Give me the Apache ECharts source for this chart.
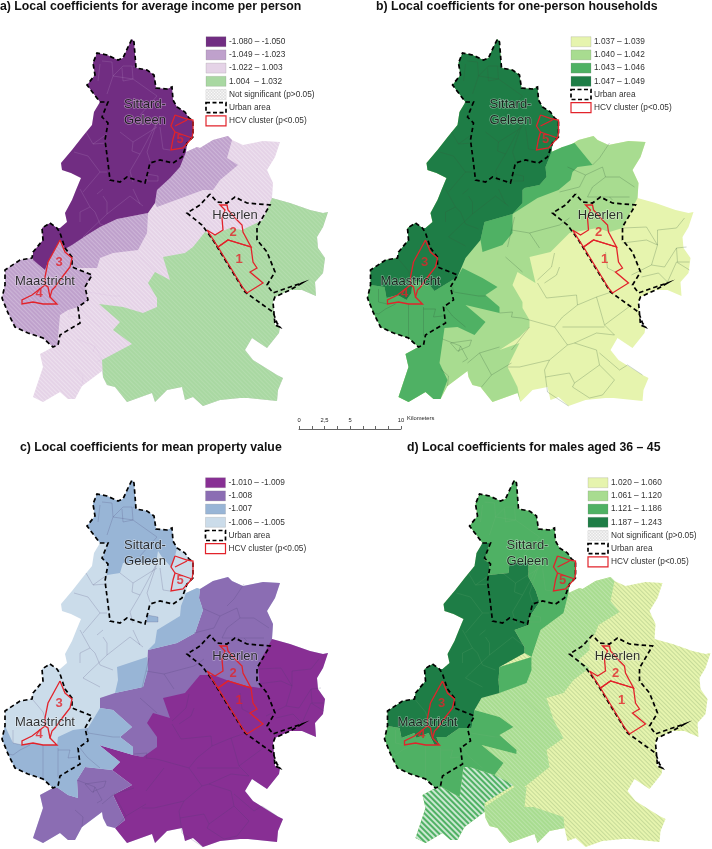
<!DOCTYPE html>
<html><head><meta charset="utf-8">
<style>html,body{margin:0;padding:0;background:#fff}#c{width:712px;height:849px}</style>
<script src="https://cdn.jsdelivr.net/npm/echarts@6/dist/echarts.min.js"></script>
</head><body><div id="c"></div>
<script>
// ---- Map geometry (map units; shared by the four panels) ----
const OUTLINE = [[132,39],[134,42],[135,55],[136,68],[147,70],[154,75],[156,88],[167,89],[172,87],[173,100],[177,107],[185,112],[189,118],[193,121],[193,137],[187,143],[186,152],[197,147],[200,148],[213,140],[228,136],[232,140],[243,145],[263,141],[280,142],[275,157],[267,170],[273,183],[272,198],[290,203],[310,210],[323,213],[328,212],[323,227],[317,237],[318,248],[325,258],[323,273],[315,282],[316,296],[302,290],[290,290],[275,297],[273,302],[275,325],[280,327],[279,333],[267,348],[252,338],[245,350],[253,360],[277,375],[283,378],[278,390],[277,401],[248,398],[240,398],[220,400],[203,406],[193,397],[185,400],[182,387],[167,390],[155,402],[152,393],[127,402],[115,387],[107,385],[103,377],[102,371],[82,386],[75,399],[68,399],[60,392],[43,402],[33,397],[43,367],[40,354],[53,347],[43,338],[28,333],[15,327],[8,313],[2,298],[5,285],[5,270],[20,260],[32,258],[33,252],[43,240],[42,228],[50,223],[57,228],[60,228],[67,222],[65,213],[72,200],[76,190],[81,178],[71,173],[62,170],[61,163],[72,150],[83,136],[92,125],[94,112],[100,102],[87,85],[95,75],[93,63],[97,53],[107,55],[118,60],[123,58],[128,47]];
function edge(a,b){const f=p=>OUTLINE.findIndex(q=>q[0]===p[0]&&q[1]===p[1]);let i=f(a);const j=f(b),r=[];for(;;){r.push(OUTLINE[i]);if(i===j)break;i=(i+1)%OUTLINE.length;}return r;}

const URBAN = [
 [[100,102],[108,102],[102,117],[108,123],[105,140],[108,163],[110,180],[120,182],[127,177],[145,183],[150,163],[160,160],[173,163],[182,157],[187,143],[193,137],[193,121],[189,118],[185,112],[177,107],[173,100],[172,87],[167,89],[156,88],[154,75],[147,70],[136,68],[135,55],[134,42],[132,39],[128,47],[123,58],[118,60],[107,55],[97,53],[93,63],[95,75],[87,85],[100,102]],
 [[210,194],[200,205],[187,213],[202,225],[213,240],[227,263],[245,292],[263,305],[273,312],[277,323],[280,327],[275,325],[273,302],[275,297],[290,290],[302,283],[290,287],[273,293],[267,285],[275,272],[267,252],[257,240],[257,227],[270,205],[247,203],[235,197],[227,203],[217,202],[210,194]],
 [[50,223],[57,228],[60,233],[65,248],[72,257],[72,267],[92,275],[85,287],[88,300],[78,307],[80,323],[60,335],[58,345],[53,347],[43,338],[28,333],[15,327],[8,313],[2,298],[5,285],[5,270],[20,260],[32,258],[33,252],[43,240],[42,228],[50,223]]
];
const HCV = [
 [[218,247],[228,240],[251,247],[253,262],[257,268],[250,272],[263,283],[247,293],[243,288],[218,247]],
 [[207,230],[215,235],[223,230],[222,218],[225,210],[220,205],[227,205],[228,210],[237,220],[242,225],[243,232],[251,247],[228,240],[218,247],[207,230]],
 [[60,240],[65,252],[72,258],[70,267],[63,276],[55,287],[52,290],[50,297],[57,304],[43,304],[33,302],[22,304],[22,300],[32,295],[45,285],[45,277],[48,262],[60,240]],
 [[45,285],[48,287],[50,297]],
 [[175,115],[187,119],[193,120],[193,132],[192,138],[183,148],[171,150],[173,139],[175,132],[171,126],[175,115]],
 [[175,126],[187,120]],
 [[175,132],[192,138]]
];
const LINES_NORTH = [
 [[102,61],[112,62],[113,76],[107,94]],[[100,64],[98,81]],[[113,76],[123,66],[132,66],[133,79],[123,81],[122,68]],
 [[133,66],[137,67]],[[113,76],[133,79],[157,96],[140,115]],[[120,132],[133,142],[132,151],[140,154],[147,141],[157,122]],
 [[133,142],[157,127]],[[140,154],[130,171],[133,182]],[[157,122],[147,152],[150,161]],[[160,127],[163,149],[170,150]],
 [[107,134],[93,144],[86,132]],[[93,144],[107,143]],[[74,152],[88,156],[100,172],[107,172]],[[100,172],[83,192]],
 [[147,174],[158,176],[158,181],[147,181],[147,174]],[[80,189],[90,207],[80,212],[80,222]],[[90,207],[95,212],[100,224]],
 [[97,194],[103,189]],[[103,196],[107,202],[107,214],[130,196],[143,206]],[[133,189],[140,204]],
 [[107,214],[88,232],[83,237],[100,246]],[[100,224],[113,229]],[[33,259],[43,271],[47,283]],[[13,289],[13,302],[22,304]],
 [[9,313],[13,314],[20,309],[30,304]],[[43,304],[43,339]],[[58,307],[58,336]],[[58,309],[70,309],[68,317],[77,316]],
 [[87,287],[88,292],[113,296],[120,296]],[[80,307],[87,316],[100,327]],[[75,369],[83,376],[82,386]],[[97,362],[102,359]],
 [[77,339],[95,346],[102,359]],[[93,352],[95,346]],[[140,257],[157,272]]
];
const LINES_SOUTH = [
 [[189,253],[186,267],[172,280]],[[194,267],[191,275],[179,283]],[[172,283],[181,298],[211,295],[212,305],[231,297],[246,292]],
 [[164,320],[189,327],[197,317],[212,305]],[[231,297],[239,325],[266,305]],[[197,327],[239,327]],
 [[189,327],[202,345],[209,343],[231,333],[249,335],[239,325]],[[202,345],[184,360],[179,370],[180,377],[204,373],[209,383],[234,365],[231,350],[209,343]],
 [[234,353],[254,370],[262,365],[277,375]],[[234,365],[249,380],[237,395],[224,398]],[[207,387],[224,398]],[[209,383],[207,387]],
 [[180,377],[182,392],[203,406]],[[164,327],[146,350]],[[154,367],[184,360]],[[142,367],[154,367]],
 [[134,313],[147,312],[146,317],[156,318],[164,320]],[[102,363],[114,353],[134,347]],[[114,353],[126,375],[116,387]],
 [[126,375],[146,363]],[[85,343],[106,340],[104,346],[92,351],[85,343]],[[257,228],[281,227],[292,245],[292,230],[311,228],[319,218]],
 [[257,243],[281,240],[292,245],[286,265],[299,267],[311,248],[321,247]],[[286,265],[276,270],[266,275]],[[276,277],[293,273],[302,282],[311,262],[324,270]],
 [[311,248],[312,262],[324,262]],[[227,165],[234,158],[244,143]],[[202,167],[220,175],[237,167],[240,177],[254,177],[269,187]],
 [[220,175],[214,187],[194,192]],[[240,177],[227,187],[222,197],[244,197],[247,200]],[[244,197],[264,197]],
 [[146,230],[164,233],[174,248]],[[164,233],[194,225],[204,218]],[[149,217],[146,230],[142,247]],[[240,252],[242,268],[250,272]]
];

// ---- Per-panel zones ----
const ZONES_A = [
 ['base',2,OUTLINE],
 ['east',3,[...edge([272,198],[103,377]),[102,360],[132,344],[113,330],[120,322],[99,304],[123,307],[143,313],[157,307],[157,298],[148,283],[155,272],[170,280],[163,257],[185,253],[193,247],[205,232],[213,235],[230,228],[242,230],[263,220]]],
 ['ne',1,[...edge([186,152],[232,140]),[227,158],[238,165],[220,180],[213,190],[203,190],[157,207],[155,203],[157,190],[180,167]]],
 ['west',1,[[148,213],[147,233],[138,250],[113,253],[100,258],[97,268],[78,268],[72,267],[72,258],[65,249],[87,235],[100,227],[117,219]]],
 ['maas',1,[...edge([53,347],[32,258]),[33,260],[45,270],[48,262],[60,240],[65,249],[72,258],[72,267],[92,275],[85,287],[88,300],[78,307],[68,310],[60,315],[58,337],[58,345]]],
 ['north',0,[...edge([33,252],[186,152]),[180,167],[170,178],[157,190],[155,203],[148,213],[117,219],[100,227],[87,235],[72,245],[65,249],[60,240],[48,262],[45,270],[33,260]]]
];
const ZONES_B = [
 ['base',0,OUTLINE],
 ['light',1,[...edge([155,402],[272,198]),[257,228],[244,232],[232,228],[204,233],[185,252],[164,257],[170,283],[152,272],[147,285],[157,302],[157,308],[164,320],[164,327],[154,337],[134,350],[154,343],[142,367],[152,387]]],
 ['ne',2,[[186,152],[197,147],[209,143],[227,165],[212,167],[207,172],[205,180],[193,190],[172,198],[147,214],[157,203],[157,190],[159,188],[174,185],[181,177],[180,167]]],
 ['centre',2,[[119,222],[147,214],[147,233],[137,245],[117,252],[115,240]]],
 ['south',2,[...edge([75,399],[5,285]),[19,287],[21,298],[32,295],[41,300],[46,293],[47,280],[64,285],[69,291],[87,280],[92,277],[97,268],[117,278],[132,287],[120,295],[134,307],[134,313],[100,305],[120,322],[109,335],[92,327],[79,328],[74,363],[82,380]]],
 ['north',3,[...edge([5,285],[186,152]),[180,167],[181,177],[174,185],[159,188],[157,190],[157,203],[147,214],[119,222],[115,240],[100,258],[92,277],[87,280],[69,291],[64,285],[47,280],[46,293],[41,300],[32,295],[21,298],[19,287]]]
];
const ZONES_C = [
 ['base',3,OUTLINE],
 ['mid',1,[...edge([200,148],[272,198]),[265,255],[190,300],[160,320],[133,314],[133,306],[120,296],[132,286],[113,269],[100,267],[100,257],[115,252],[143,246],[147,230],[148,209],[177,202],[195,192],[203,169],[199,157]]],
 ['east',0,[...edge([272,198],[115,387]),[125,379],[113,354],[132,344],[112,329],[120,321],[99,304],[133,314],[143,316],[157,306],[157,296],[147,282],[153,272],[170,277],[163,257],[185,252],[200,234],[213,234],[240,244],[260,247],[258,224]]],
 ['lav',1,[...edge([115,387],[53,347]),[58,347],[68,354],[78,357],[77,339],[85,326],[112,329],[132,344],[113,354],[125,379]]],
 ['bluen',2,[...edge([100,102],[177,107]),[175,115],[171,126],[162,116],[158,110],[156,122],[123,122],[120,132],[107,134],[108,122],[102,119],[108,102]]],
 ['bluene',2,[[186,152],[197,147],[200,148],[199,157],[203,169],[195,192],[177,202],[148,209],[155,202],[157,189],[180,175],[181,165]]],
 ['bluec',2,[[117,226],[147,216],[148,229],[143,246],[115,252],[118,239]]],
 ['blues',2,[...edge([53,347],[5,285]),[13,302],[22,304],[33,302],[43,304],[57,304],[58,296],[73,289],[88,287],[100,267],[113,269],[132,286],[120,296],[133,306],[133,314],[99,304],[120,321],[112,329],[85,326],[77,339],[78,357],[68,354],[58,347]]],
 ['patch',2,[[147,174],[158,176],[158,181],[147,181]]]
];
const ZONES_D = [
 ['base',0,OUTLINE],
 ['lightc',1,[...edge([186,152],[232,140]),[228,160],[237,171],[216,184],[212,194],[207,196],[207,209],[196,219],[207,227],[191,239],[181,252],[164,257],[171,279],[181,297],[164,309],[167,326],[147,342],[134,352],[131,344],[112,334],[121,322],[99,304],[134,313],[134,309],[117,294],[131,286],[117,276],[92,269],[99,257],[117,252],[144,240],[149,226],[149,216],[158,189],[181,172]]],
 ['lights',1,[...edge([182,387],[103,377]),[102,366],[132,346],[144,346],[142,366],[151,366],[181,376]]],
 ['hatchsw',4,[...edge([102,371],[53,347]),[59,346],[77,356],[81,326],[87,326],[112,334],[131,344],[102,362]]],
 ['meds',2,[...edge([53,347],[5,285]),[17,287],[19,297],[32,292],[34,297],[46,292],[52,304],[57,304],[54,296],[64,296],[77,287],[89,287],[92,269],[117,276],[131,286],[117,294],[134,309],[134,313],[99,304],[121,322],[112,334],[87,326],[81,326],[77,356],[59,346]]],
 ['medn',2,[...edge([100,102],[186,152]),[181,172],[158,189],[149,216],[142,212],[142,206],[132,189],[146,184],[147,176],[157,161],[153,149],[146,136],[146,122],[127,122],[126,132],[106,134],[107,122],[102,119],[107,102]]],
 ['medc',2,[[117,226],[149,216],[149,229],[144,242],[117,252],[116,239]]],
 ['dark',3,[...edge([5,285],[100,102]),[107,102],[102,119],[107,122],[106,134],[126,132],[127,122],[146,122],[146,136],[153,149],[157,161],[147,176],[146,184],[132,189],[142,206],[142,212],[117,226],[116,239],[117,252],[99,257],[92,269],[89,287],[77,287],[64,296],[54,296],[57,304],[52,304],[46,292],[34,297],[32,292],[19,297],[17,287]]]
];

// ---- Legends, titles, colours ----
const TITLES = ['a) Local coefficients for average income per person','b) Local coefficients for one-person households','c) Local coefficients for mean property value','d) Local coefficients for males aged 36 – 45'];
const LEGEND_A = ['-1.080 – -1.050','-1.049 – -1.023','-1.022 – 1.003','1.004  – 1.032','Not significant (p>0.05)','Urban area','HCV cluster (p<0.05)'];
const LEGEND_B = ['1.037 – 1.039','1.040 – 1.042','1.043 – 1.046','1.047 – 1.049','Urban area','HCV cluster (p<0.05)'];
const LEGEND_C = ['-1.010 – -1.009','-1.008','-1.007','-1.006 – -1.005','Urban area','HCV cluster (p<0.05)'];
const LEGEND_D = ['1.020 – 1.060','1.061 – 1.120','1.121 – 1.186','1.187 – 1.243','Not significant (p>0.05)','Urban area','HCV cluster (p<0.05)'];
const COLORS_A = ['#712d82','#bfa1cc','#e5d3e7','#a9d8a2'];
const COLORS_B = ['#e6f4ae','#a8dc90','#4fb164','#1e7d46'];
const COLORS_C = ['#882f94','#8b6db3','#98b5d6','#cbdcea'];
const COLORS_D = ['#e6f4ae','#a8dc90','#4fb164','#1e7d46','#4fb164'];
const HATCH_A = {1:'rgba(255,255,255,0.22)',2:'rgba(255,255,255,0.3)',3:'rgba(255,255,255,0.12)'};
const HATCH_D = {0:'rgba(150,180,120,0.4)',1:'rgba(255,255,255,0.22)',4:'rgba(255,255,255,0.7)'};
const PLACE_LABELS = [['Sittard-',145,104],['Geleen',145,120],['Heerlen',235,215],['Maastricht',45,281]];
const NUMBER_LABELS = [['1',239,259],['2',233,232],['3',59,262],['4',39,293],['5',180,139]];
const SCALE_TICKS = [0,2.5,5,10];

// ---- Panels ----
const PANELS = [
 {name:'A',dx:0,dy:0,zones:ZONES_A,colors:COLORS_A,hatch:HATCH_A,legend:LEGEND_A,lx:206,ly:41.7,tx:0,ty:0.5,lineColor:'rgba(205,175,215,0.35)',south:false},
 {name:'B',dx:365.5,dy:0,zones:ZONES_B,colors:COLORS_B,hatch:{},legend:LEGEND_B,lx:571,ly:41.7,tx:376,ty:0.5,lineColor:'rgba(50,90,60,0.5)',south:true},
 {name:'C',dx:0,dy:441,zones:ZONES_C,colors:COLORS_C,hatch:{},legend:LEGEND_C,lx:205.5,ly:482.7,tx:20,ty:441.5,lineColor:'rgba(70,60,110,0.4)',south:true},
 {name:'D',dx:382.5,dy:441,zones:ZONES_D,colors:COLORS_D,hatch:HATCH_D,legend:LEGEND_D,lx:588,ly:482.7,tx:407,ty:441.5,lineColor:'rgba(130,180,130,0.3)',south:false}
];
const projection = {project:p=>[p[0],p[1]],unproject:p=>[p[0],p[1]]};
const FONT='"Liberation Sans",Arial,sans-serif';
const BOX=[[0,0],[356,408]];

const geos=[],series=[],titles=[],graphics=[];
PANELS.forEach((P,k)=>{
  echarts.registerMap('panel'+P.name,{type:'FeatureCollection',features:P.zones.map(z=>({type:'Feature',properties:{name:z[0]},geometry:{type:'Polygon',coordinates:[[...z[2],z[2][0]]]}}))});
  const layout={left:P.dx,top:P.dy,width:356,height:408,boundingCoords:BOX,projection};
  geos.push({map:'panel'+P.name,...layout,roam:false,silent:true,label:{show:false},itemStyle:{areaColor:'rgba(0,0,0,0)',borderColor:'rgba(0,0,0,0)',borderWidth:0},emphasis:{disabled:true},select:{disabled:true}});
  series.push({type:'map',map:'panel'+P.name,...layout,silent:true,roam:false,label:{show:false},emphasis:{disabled:true},select:{disabled:true},showLegendSymbol:false,
    itemStyle:{borderWidth:0,borderColor:'rgba(0,0,0,0)'},
    data:P.zones.map(z=>{
      const itemStyle={areaColor:P.colors[z[1]],borderWidth:0};
      if(P.hatch[z[1]]) itemStyle.decal={symbol:'rect',symbolSize:1,color:P.hatch[z[1]],rotation:Math.PI/4,dashArrayX:[1,0],dashArrayY:z[1]===4?[2,2]:[1,2]};
      return {name:z[0],value:z[1],itemStyle};
    })});
  const thin=P.south?[...LINES_NORTH,...LINES_SOUTH]:LINES_NORTH;
  series.push({type:'lines',coordinateSystem:'geo',geoIndex:k,polyline:true,silent:true,z:3,lineStyle:{color:P.lineColor,width:0.5,opacity:1},data:thin.map(c=>({coords:c}))});
  series.push({type:'lines',coordinateSystem:'geo',geoIndex:k,polyline:true,silent:true,z:4,lineStyle:{color:'#000',width:1.7,type:[4.5,3],opacity:1},data:URBAN.map(c=>({coords:c}))});
  series.push({type:'lines',coordinateSystem:'geo',geoIndex:k,polyline:true,silent:true,z:5,lineStyle:{color:'#e2232b',width:1.3,opacity:1},data:HCV.map(c=>({coords:c}))});
  series.push({type:'scatter',coordinateSystem:'geo',geoIndex:k,silent:true,z:6,symbolSize:0,
    label:{show:true,position:'inside',formatter:'{b}',color:'#000',fontFamily:FONT,fontSize:13,textBorderColor:'rgba(255,255,255,0.55)',textBorderWidth:1.2},
    data:PLACE_LABELS.map(l=>({name:l[0],value:[l[1],l[2]]}))});
  series.push({type:'scatter',coordinateSystem:'geo',geoIndex:k,silent:true,z:7,symbolSize:0,
    label:{show:true,position:'inside',formatter:'{b}',color:'#e2232b',fontFamily:FONT,fontSize:13,fontWeight:'bold'},
    data:NUMBER_LABELS.map(l=>({name:l[0],value:[l[1],l[2]]}))});
  titles.push({text:TITLES[k],left:P.tx,top:P.ty,padding:0,textStyle:{fontFamily:FONT,fontSize:12.3,fontWeight:'bold',color:'#111'}});

  // legend
  P.legend.forEach((t,i)=>{
    const y=P.ly+i*13.2, x=P.lx, w=20, h=10;
    const st=t==='Urban area'?{fill:'#fff',stroke:'#000',lineWidth:1.7,lineDash:[4,2.5]}
      :t.startsWith('HCV')?{fill:'#fff',stroke:'#e2232b',lineWidth:1.2}
      :t.startsWith('Not')?{fill:'#fbfbfb',stroke:'#dcdcdc',lineWidth:0.6}
      :{fill:P.colors[i],stroke:'rgba(120,120,120,0.35)',lineWidth:0.6};
    graphics.push({type:'rect',z:10,silent:true,shape:{x,y:y-h/2,width:w,height:h},style:st});
    if(t.startsWith('Not')){
      for(let d=-8;d<28;d+=3){
        const x1=Math.max(x,x+d),x2=Math.min(x+w,x+d+h);
        if(x2>x1){
          graphics.push({type:'line',z:11,silent:true,shape:{x1,y1:y-h/2+(x1-x-d),x2,y2:y-h/2+(x2-x-d)},style:{stroke:'#c4c4c4',lineWidth:0.5}});
          graphics.push({type:'line',z:11,silent:true,shape:{x1:2*x+w-x1,y1:y-h/2+(x1-x-d),x2:2*x+w-x2,y2:y-h/2+(x2-x-d)},style:{stroke:'#c4c4c4',lineWidth:0.5}});
        }
      }
    }
    graphics.push({type:'text',z:11,silent:true,x:x+23,y,style:{text:t,font:'8.3px '+FONT,fill:'#333',verticalAlign:'middle'}});
  });
});
graphics.push({type:'text',silent:true,z:11,x:407,y:418.5,style:{text:'Kilometers',font:'5.8px '+FONT,fill:'#222',verticalAlign:'middle'}});

const chart=echarts.init(document.getElementById('c'),null,{renderer:'canvas'});
chart.setOption({
  animation:false,backgroundColor:'#fff',title:titles,geo:geos,
  grid:{left:299,width:102,top:428,height:1,show:false},
  xAxis:{type:'value',min:0,max:10,interval:1.25,position:'bottom',splitLine:{show:false},
    axisLine:{show:true,lineStyle:{color:'#222',width:0.7}},
    axisTick:{show:true,inside:true,length:3,lineStyle:{color:'#222',width:0.7}},
    axisLabel:{inside:true,margin:6,fontSize:5.8,color:'#222',fontFamily:FONT,customValues:SCALE_TICKS,formatter:v=>String(v).replace('.',',')}},
  yAxis:{type:'value',show:false},
  series,graphic:{elements:graphics}
});
</script></body></html>
